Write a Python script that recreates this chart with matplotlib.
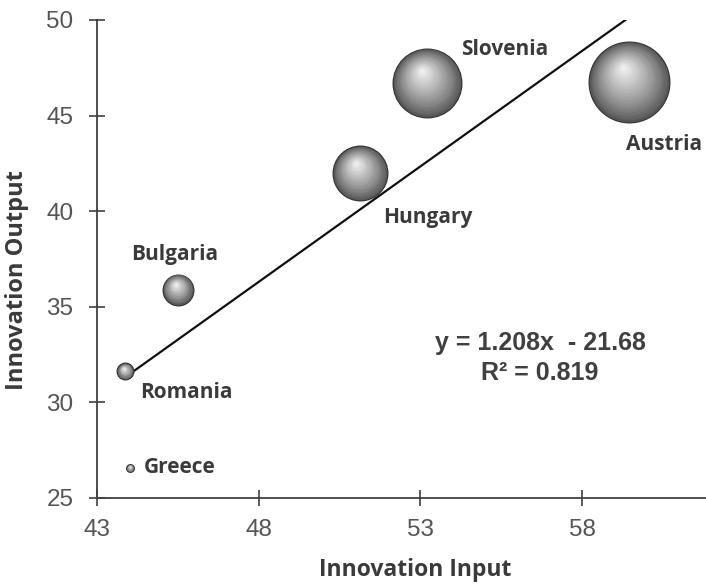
import numpy as np
import matplotlib
matplotlib.use("Agg")
import matplotlib.pyplot as plt
from matplotlib import transforms
from matplotlib.colors import to_rgb

countries = ["Greece", "Romania", "Bulgaria", "Hungary", "Slovenia", "Austria"]
innovation_input = [44.02, 43.87, 45.50, 51.13, 53.20, 59.45]
innovation_output = [26.57, 31.63, 35.90, 42.00, 46.71, 46.76]
bubble_size = [3.5, 8, 15, 27, 34, 40]

slope = 1.208
intercept = -21.68
r_squared = 0.819

xticks = [43, 48, 53, 58]
yticks = [25, 30, 35, 40, 45, 50]

# label offsets in points (dx, dy, ha)
label_offsets = {
    "Greece": (10, 0, "left"),
    "Romania": (44, -15, "center"),
    "Bulgaria": (-2, 25, "center"),
    "Hungary": (49, -32, "center"),
    "Slovenia": (56, 24, "center"),
    "Austria": (25, -45, "center"),
}

W, H, DPI = 706, 587, 100
fig = plt.figure(figsize=(W / DPI, H / DPI), dpi=DPI)
ax = fig.add_axes([97 / W, 89 / H, 609 / W, 478 / H])
ax.set_xlim(43, 43 + 609 / 32.34)
ax.set_ylim(25, 50)

axis_col = "#404040"
for s in ["top", "right"]:
    ax.spines[s].set_visible(False)
for s in ["left", "bottom"]:
    ax.spines[s].set_color(axis_col)
    ax.spines[s].set_linewidth(1.3)
    ax.spines[s].set_zorder(1)

ax.set_xticks(xticks)
ax.set_yticks(yticks)
ax.tick_params(direction="inout", length=12, width=1.2, color=axis_col,
               labelsize=17.5, labelcolor="#555555")
ax.tick_params(axis="y", pad=11)
ax.tick_params(axis="x", pad=9)
for lab in ax.get_xticklabels() + ax.get_yticklabels():
    lab.set_fontfamily("Liberation Sans")

# trendline over the data range
xs = np.array([min(innovation_input), max(innovation_input)])
ax.plot(xs, slope * xs + intercept, color="#111111", lw=1.6, zorder=2)

# shaded "3D" bubbles
dark = np.array(to_rgb("#555555"))
light = np.array(to_rgb("#f2f2f2"))
n = 30
for x, y, r in zip(innovation_input, innovation_output, bubble_size):
    r_pt = r * 72 / DPI
    ax.scatter([x], [y], s=(2 * r_pt + 1.4) ** 2, color="#2e2e2e", lw=0, zorder=3)
    for k in range(n):
        t = k / n
        rr = r_pt * (1 - t * 0.97)
        col = dark + (light - dark) * (t ** 0.85)
        tr = transforms.offset_copy(ax.transData, fig, x=-0.15 * r_pt * t,
                                    y=0.37 * r_pt * t, units="points")
        ax.scatter([x], [y], s=(2 * rr) ** 2, color=col, lw=0, zorder=3 + k * 0.01,
                   transform=tr)

for name, x, y in zip(countries, innovation_input, innovation_output):
    dx, dy, ha = label_offsets[name]
    ax.annotate(name, (x, y), xytext=(dx, dy), textcoords="offset points",
                ha=ha, va="center", fontsize=15, fontweight="bold",
                color="#3a3a3a", family="Open Sans", zorder=5)

ax.text(540 / W, 1 - 343 / H, f"y = {slope}x  - {abs(intercept)}", transform=fig.transFigure,
        ha="center", va="center", fontsize=18, fontweight="bold", color="#404040",
        family="Liberation Sans")
ax.text(540 / W, 1 - 373 / H, f"R² = {r_squared}", transform=fig.transFigure,
        ha="center", va="center", fontsize=18, fontweight="bold", color="#404040",
        family="Liberation Sans")

fig.text(415 / W, 1 - 570 / H, "Innovation Input", ha="center", va="center",
         fontsize=16.5, fontweight="bold", color="#3a3a3a", family="Open Sans")
fig.text(17 / W, 1 - 280 / H, "Innovation Output", ha="center", va="center",
         rotation=90, fontsize=17, fontweight="bold", color="#3a3a3a", family="Open Sans")

fig.savefig("out.png", dpi=DPI)
